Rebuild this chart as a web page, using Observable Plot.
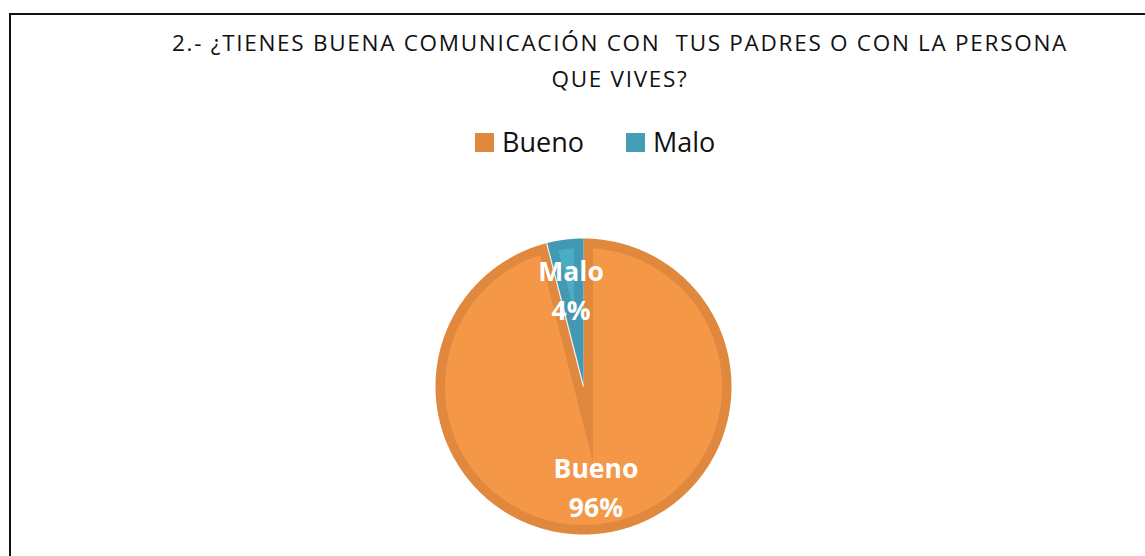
<!DOCTYPE html>
<html><head><meta charset="utf-8">
<script src="https://cdn.jsdelivr.net/npm/d3@7"></script>
<script src="https://cdn.jsdelivr.net/npm/@observablehq/plot@0.6"></script>
<style>
html,body{margin:0;padding:0;background:#fff}
body{width:1145px;height:556px;overflow:hidden;position:relative;font-family:"Open Sans",sans-serif;color:#111}
#frame{position:absolute;left:9px;top:13px;width:1300px;height:700px;border-left:2.5px solid #111;border-top:2.5px solid #111;box-sizing:border-box}
.tl{position:absolute;white-space:pre;font-size:22.5px;line-height:29px;left:620px;transform:translateX(-50%);color:#111}
#legend{position:absolute;left:475px;top:123px;display:flex;align-items:center;font-size:27px;line-height:37px}
.item{display:flex;align-items:center;margin-right:42px}
.sw{width:19px;height:19px;margin-right:8px;margin-top:2px}
#chart{position:absolute;left:0;top:0}
</style></head>
<body>
<div id="frame"></div>
<div id="t1" class="tl"></div>
<div id="t2" class="tl"></div>
<div id="legend"></div>
<div id="chart"></div>
<script>
// ---- data ----
const titleLines = ["2.- ¿TIENES BUENA COMUNICACIÓN CON  TUS PADRES O CON LA PERSONA", "QUE VIVES?"];
const categories = ["Bueno", "Malo"];
const values = [96, 4];
const percentLabels = ["96%", "4%"];
const fillColors = ["#F49747", "#4BACC6"];
const edgeColors = ["#E1883F", "#4398B2"];
const legendColors = ["#E1883F", "#469DB6"];

// ---- title ----
const t1 = document.getElementById("t1"), t2 = document.getElementById("t2");
t1.textContent = titleLines[0];
t2.textContent = titleLines[1];
t1.style.top = "28.3px";
t2.style.top = "63.5px";
const natural = t1.getBoundingClientRect().width;
const ls = (896 - natural) / titleLines[0].length;
t1.style.letterSpacing = ls + "px";
t2.style.letterSpacing = ls + "px";

// ---- legend ----
const legend = document.getElementById("legend");
categories.forEach((c, i) => {
  const it = document.createElement("div"); it.className = "item";
  const sw = document.createElement("div"); sw.className = "sw"; sw.style.background = legendColors[i];
  const lb = document.createElement("span"); lb.textContent = c;
  it.appendChild(sw); it.appendChild(lb); legend.appendChild(it);
});

// ---- pie geometry (unit circle, angles clockwise from 12 o'clock) ----
const rows = categories.map((c, i) => ({cat: c, value: values[i], pct: percentLabels[i], fill: fillColors[i], edge: edgeColors[i]}));
const arcs = d3.pie().sort(null).value(d => d.value)(rows);
const R = 148, cx = 583, cy = 386;
const d = 9.5 / R; // border band width
function arcPoints(a0, a1, r) {
  const n = Math.max(2, Math.ceil(Math.abs(a1 - a0) / 0.01));
  return d3.range(n + 1).map(k => { const a = a0 + (a1 - a0) * k / n; return [r * Math.sin(a), r * Math.cos(a)]; });
}
const outer = [], inner = [];
arcs.forEach((a, i) => {
  const a0 = a.startAngle, a1 = a.endAngle, th = a1 - a0, m = (a0 + a1) / 2;
  const o = [[0, 0], ...arcPoints(a0, a1, 1)];
  o.forEach(p => outer.push({key: i, x: p[0], y: p[1]}));
  const t = Math.sqrt((1 - d) ** 2 - d * d), del = Math.atan2(d, t);
  const vd = d / Math.sin(th / 2);
  const v = [vd * Math.sin(m), vd * Math.cos(m)];
  const ip = [v, ...arcPoints(a0 + del, a1 - del, 1 - d)];
  ip.forEach(p => inner.push({key: i, x: p[0], y: p[1]}));
});
const labelR = 0.67;
const labels = arcs.map(a => { const m = (a.startAngle + a.endAngle) / 2; return {x: labelR * Math.sin(m), y: labelR * Math.cos(m), text: a.data.cat + "\n" + a.data.pct}; });
const maloArc = arcs[1];
const seam = [{x1: 0, y1: 0, x2: Math.sin(maloArc.startAngle), y2: Math.cos(maloArc.startAngle)}];

const marks = [];
rows.forEach((r, i) => {
  marks.push(Plot.line(outer.filter(p => p.key === i), {x: "x", y: "y", fill: r.edge, stroke: "none"}));
});
rows.forEach((r, i) => {
  marks.push(Plot.line(inner.filter(p => p.key === i), {x: "x", y: "y", fill: r.fill, stroke: "none"}));
});
marks.push(Plot.link(seam, {x1: "x1", y1: "y1", x2: "x2", y2: "y2", stroke: "#ffffff", strokeWidth: 1.2, strokeOpacity: 0.85}));
marks.push(Plot.text(labels, {x: "x", y: "y", text: "text", fill: "white", fontSize: 26.5, fontWeight: "bold", lineHeight: 1.46, fontFamily: "Open Sans", textAnchor: "middle"}));

const plot = Plot.plot({
  width: 1145, height: 556, margin: 0, axis: null,
  style: {background: "transparent", overflow: "visible"},
  x: {domain: [-1, 1], range: [cx - R, cx + R]},
  y: {domain: [-1, 1], range: [cy + R, cy - R]},
  marks
});
document.getElementById("chart").appendChild(plot);
</script>
</body></html>
